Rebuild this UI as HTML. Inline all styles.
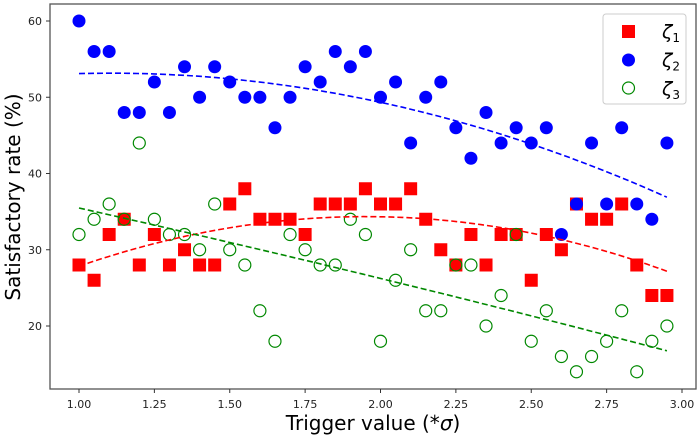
<!DOCTYPE html>
<html><head><meta charset="utf-8"><style>
body{margin:0;background:#fff;}
svg text{font-family:"DejaVu Sans","Liberation Sans",sans-serif;}
</style></head><body>
<svg id="chart" width="699" height="436" xmlns="http://www.w3.org/2000/svg">
<g id="plot"></g>
</svg>
<script>
const xs = [1.00,1.05,1.10,1.15,1.20,1.25,1.30,1.35,1.40,1.45,1.50,1.55,1.60,1.65,1.70,1.75,1.80,1.85,1.90,1.95,2.00,2.05,2.10,2.15,2.20,2.25,2.30,2.35,2.40,2.45,2.50,2.55,2.60,2.65,2.70,2.75,2.80,2.85,2.90,2.95];
const zeta1 = [28,26,32,34,28,32,28,30,28,28,36,38,34,34,34,32,36,36,36,38,36,36,38,34,30,28,32,28,32,32,26,32,30,36,34,34,36,28,24,24];
const zeta2 = [60,56,56,48,48,52,48,54,50,54,52,50,50,46,50,54,52,56,54,56,50,52,44,50,52,46,42,48,44,46,44,46,32,36,44,36,46,36,34,44];
const zeta3 = [32,34,36,34,44,34,32,32,30,36,30,28,22,18,32,30,28,28,34,32,18,26,30,22,22,28,28,20,24,32,18,22,16,14,16,18,22,14,18,20];
const xTicks = [1.00,1.25,1.50,1.75,2.00,2.25,2.50,2.75,3.00];
const yTicks = [20,30,40,50,60];

const NS="http://www.w3.org/2000/svg";
const svg=document.getElementById('chart');
const plot=document.getElementById('plot');
const L=50,R=696,T=4,B=389;
const X=v=>79+(v-1)*(682-79)/2;
const Y=v=>326-(v-20)*(326-21)/40;
function el(tag,attrs,parent){const e=document.createElementNS(NS,tag);for(const k in attrs)e.setAttribute(k,attrs[k]);(parent||svg).appendChild(e);return e;}

// fits
function polyfit2(x,y){
  let S=[0,0,0,0,0],Ty=[0,0,0];
  for(let i=0;i<x.length;i++){let p=1;for(let k=0;k<5;k++){S[k]+=p;if(k<3)Ty[k]+=p*y[i];p*=x[i];}}
  const M=[[S[0],S[1],S[2],Ty[0]],[S[1],S[2],S[3],Ty[1]],[S[2],S[3],S[4],Ty[2]]];
  for(let i=0;i<3;i++){for(let j=i+1;j<3;j++){const f=M[j][i]/M[i][i];for(let k=i;k<4;k++)M[j][k]-=f*M[i][k];}}
  const c=[0,0,0];for(let i=2;i>=0;i--){let s=M[i][3];for(let k=i+1;k<3;k++)s-=M[i][k]*c[k];c[i]=s/M[i][i];}
  return c;
}
function fitLine(ys,color,name){
  const c=polyfit2(xs,ys);let d='';
  for(let i=0;i<=60;i++){const x=xs[0]+(xs[xs.length-1]-xs[0])*i/60;const y=c[0]+c[1]*x+c[2]*x*x;d+=(i?'L':'M')+X(x).toFixed(1)+','+Y(y).toFixed(1);}
  const p=el('path',{d:d,fill:'none',stroke:color,'stroke-width':1.6,'stroke-dasharray':'6,3'},plot);
  
  
}

// axes frame
const frame=el('rect',{x:L,y:T,width:R-L,height:B-T,fill:'none',stroke:'#555','stroke-width':1.3});



// ticks
xTicks.forEach(t=>{
  const l=el('line',{x1:X(t),x2:X(t),y1:B,y2:B+4,stroke:'#333'});
  
  
  const tx=el('text',{x:X(t),y:B+19,'text-anchor':'middle','font-size':11,fill:'#222'});
  tx.textContent=t.toFixed(2);
  
  
});
yTicks.forEach(t=>{
  const l=el('line',{x1:L-4,x2:L,y1:Y(t),y2:Y(t),stroke:'#333'});
  
  
  const tx=el('text',{x:L-8,y:Y(t)+4,'text-anchor':'end','font-size':11,fill:'#222'});
  tx.textContent=t;
  
  
});
const xt=el('text',{x:373,y:430,'text-anchor':'middle','font-size':20,fill:'#000'});
xt.innerHTML='Trigger value (*<tspan font-style="italic">σ</tspan>)';


const yt=el('text',{x:0,y:0,'text-anchor':'middle','font-size':20,fill:'#000',transform:'translate(20,197) rotate(-90)'});
yt.textContent='Satisfactory rate (%)';



// markers
xs.forEach((x,i)=>{
  const r=el('rect',{x:X(x)-6.5,y:Y(zeta1[i])-6.5,width:13,height:13,fill:'#f00'},plot);
  
  
});
xs.forEach((x,i)=>{
  const c=el('circle',{cx:X(x),cy:Y(zeta2[i]),r:6.5,fill:'#00f'},plot);
  
  
});
xs.forEach((x,i)=>{
  const c=el('circle',{cx:X(x),cy:Y(zeta3[i]),r:6,fill:'none',stroke:'#080','stroke-width':1.2},plot);
  
  
});
fitLine(zeta2,'#00f','zeta2-trend');
fitLine(zeta1,'#f00','zeta1-trend');
fitLine(zeta3,'#080','zeta3-trend');

// legend
const lg=el('g',{});


el('rect',{x:603,y:14,width:83,height:90,rx:3,fill:'#fff',stroke:'#ccc'},lg);
const e1=el('rect',{x:622,y:25,width:13,height:13,fill:'#f00'},lg);
const e2=el('circle',{cx:628.5,cy:60,r:6.5,fill:'#00f'},lg);
const e3=el('circle',{cx:628.5,cy:88,r:6,fill:'none',stroke:'#080','stroke-width':1.2},lg);
['ζ','ζ','ζ'].forEach((s,i)=>{
  const t=el('text',{x:662,y:38+i*28.5,'font-size':19,fill:'#000','font-style':'italic'},lg);
  t.innerHTML=s+'<tspan font-style="normal" font-size="12" dy="4">'+(i+1)+'</tspan>';
  
  
});
</script>
</body></html>
